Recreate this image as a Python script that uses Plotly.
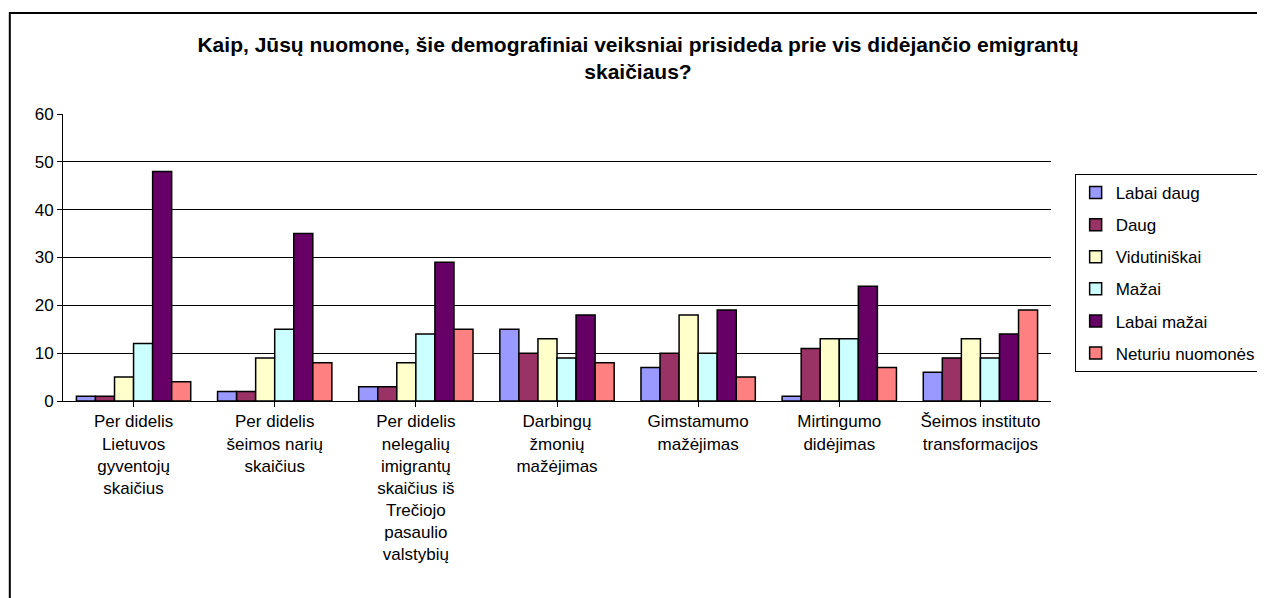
import plotly.graph_objects as go

categories = [
    "Per didelis<br>Lietuvos<br>gyventojų<br>skaičius",
    "Per didelis<br>šeimos narių<br>skaičius",
    "Per didelis<br>nelegalių<br>imigrantų<br>skaičius iš<br>Trečiojo<br>pasaulio<br>valstybių",
    "Darbingų<br>žmonių<br>mažėjimas",
    "Gimstamumo<br>mažėjimas",
    "Mirtingumo<br>didėjimas",
    "Šeimos instituto<br>transformacijos",
]
series_names = ["Labai daug", "Daug", "Vidutiniškai", "Mažai", "Labai mažai", "Neturiu nuomonės"]
labai_daug = [1, 2, 3, 15, 7, 1, 6]
daug = [1, 2, 3, 10, 10, 11, 9]
vidutiniskai = [5, 9, 8, 13, 18, 13, 13]
mazai = [12, 15, 14, 9, 10, 13, 9]
labai_mazai = [48, 35, 29, 18, 19, 24, 14]
neturiu = [4, 8, 15, 8, 5, 7, 19]
colors = ["#9999FF", "#993366", "#FFFFCC", "#CCFFFF", "#660066", "#FF8080"]

series_values = [labai_daug, daug, vidutiniskai, mazai, labai_mazai, neturiu]

fig = go.Figure()
for name, vals, col in zip(series_names, series_values, colors):
    fig.add_trace(go.Bar(
        x=list(range(len(categories))), y=vals, name=name, legendgroup=name,
        marker=dict(color=col, line=dict(color="black", width=1.5)),
    ))

OFF = 8  # page body margin
FW, FH = 1265, 598
# plot area in screen pixels: x 63..1066, y 114..401
L, R, T, B = 63 - OFF, 1066 - OFF, 114 - OFF, 401 - OFF
W, H = R - L, B - T
def px(x): return (x - OFF - L) / W
def py(y): return (B - (y - OFF)) / H

FONT = "Liberation Sans, Arial, sans-serif"

fig.update_layout(
    width=FW, height=FH,
    margin=dict(l=L, r=FW - R, t=T, b=FH - B),
    paper_bgcolor="white", plot_bgcolor="white",
    barmode="group", bargap=0.19, bargroupgap=0,
    font=dict(family=FONT, color="black"),
    title=dict(
        text="<b>Kaip, Jūsų nuomone, šie demografiniai veiksniai prisideda prie vis didėjančio emigrantų<br>skaičiaus?</b>",
        x=(638 - OFF) / FW, xanchor="center", y=1 - (52 - OFF) / FH, yanchor="middle",
        font=dict(size=21, family=FONT, color="black"),
    ),
    legend=dict(
        x=px(1090), y=py(174), xanchor="left", yanchor="top",
        bordercolor="black", borderwidth=1, bgcolor="white",
        font=dict(size=17), tracegroupgap=7, itemwidth=30,
    ),
    showlegend=True,
    shapes=[dict(type="rect", xref="paper", yref="paper",
                 x0=px(9), x1=px(1300), y0=py(650), y1=py(13),
                 line=dict(color="black", width=2), layer="below")],
)
fig.update_xaxes(
    tickmode="array", tickvals=list(range(len(categories))), ticktext=categories,
    tickson="boundaries", ticks="outside", ticklen=5, tickcolor="black",
    showline=True, linecolor="black", linewidth=1,
    tickfont=dict(size=17), range=[-0.5, len(categories) - 0.5],
)
fig.update_yaxes(
    range=[0, 60], dtick=10, ticks="outside", ticklen=5, tickcolor="black",
    showline=True, linecolor="black", linewidth=1,
    showgrid=True, gridcolor="black", gridwidth=1,
    tickfont=dict(size=17), zeroline=False,
)
fig.write_html("out.html")
